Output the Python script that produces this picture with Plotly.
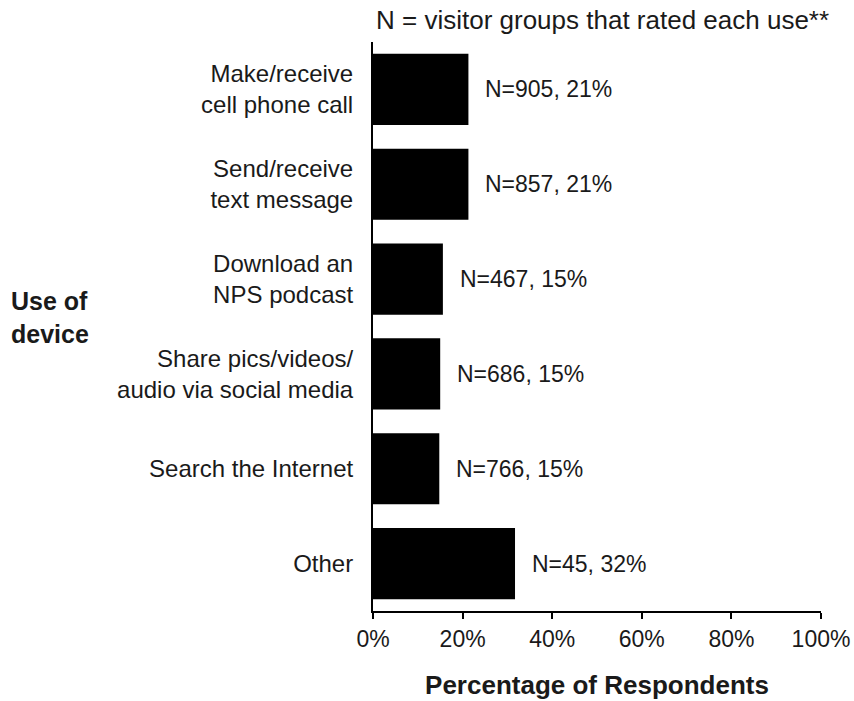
import plotly.graph_objects as go

categories = ["Make/receive<br>cell phone call", "Send/receive<br>text message", "Download an<br>NPS podcast",
              "Share pics/videos/<br>audio via social media", "Search the Internet", "Other"]
percent = [21.3, 21.3, 15.6, 15.0, 14.8, 31.7]
n_groups = [905, 857, 467, 686, 766, 45]
pct_labels = ["21%", "21%", "15%", "15%", "15%", "32%"]
x_ticks = [0, 20, 40, 60, 80, 100]
x_tick_labels = ["0%", "20%", "40%", "60%", "80%", "100%"]

FONT = "Liberation Sans, Arial, sans-serif"
TXT = "#1a1a1a"

fig = go.Figure(go.Bar(
    x=percent, y=categories, orientation="h",
    marker=dict(color="black", line=dict(width=0)),
    width=0.75,
))

for c, v, n, p in zip(categories, percent, n_groups, pct_labels):
    fig.add_annotation(x=v, y=c, xref="x", yref="y", text=f"N={n}, {p}",
                       showarrow=False, xanchor="left", xshift=15,
                       font=dict(family=FONT, size=23, color=TXT))

fig.add_annotation(xref="paper", yref="paper", x=0.513, y=1, yshift=22,
                   text="N = visitor groups that rated each use**", showarrow=False,
                   xanchor="center", yanchor="middle",
                   font=dict(family=FONT, size=26, color=TXT))

fig.add_annotation(xref="paper", yref="paper", x=-0.812, y=0.515,
                   text="<b>Use of<br>device</b>", showarrow=False,
                   xanchor="left", yanchor="middle", align="left",
                   font=dict(family=FONT, size=25, color=TXT))

fig.update_layout(
    width=854, height=701,
    margin=dict(l=373, r=33, t=42, b=90),
    paper_bgcolor="white", plot_bgcolor="white",
    showlegend=False,
    font=dict(family=FONT, size=23, color=TXT),
    xaxis=dict(range=[0, 100], tickvals=x_ticks, ticktext=x_tick_labels, automargin=False,
               showgrid=False, zeroline=False, showline=True, linecolor="black", linewidth=2,
               ticks="outside", ticklen=6, tickwidth=2, tickcolor="black",
               tickfont=dict(family=FONT, size=23, color=TXT),
               title=dict(text="<b>Percentage of Respondents</b>", standoff=25,
                          font=dict(family=FONT, size=26, color=TXT))),
    yaxis=dict(autorange="reversed", showgrid=False, zeroline=False, automargin=False,
               showline=True, linecolor="black", linewidth=2, ticks="",
               ticklabelstandoff=13,
               tickfont=dict(family=FONT, size=24, color=TXT)),
)

fig.write_html("out.html", config={"displayModeBar": False},
               post_script="document.body.style.margin='0';")
